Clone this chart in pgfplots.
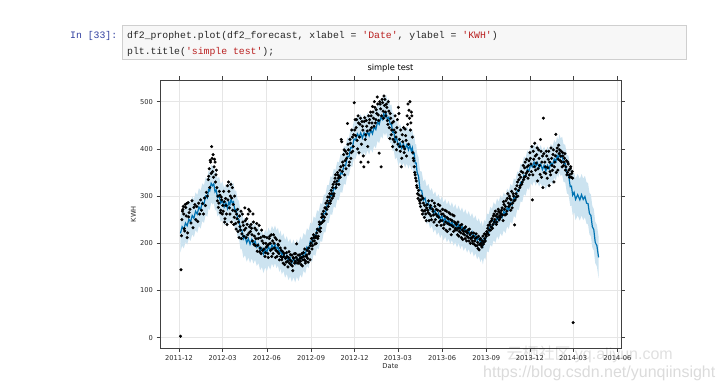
\documentclass[border=0pt]{standalone}
\usepackage{pgfplots}
\pgfplotsset{compat=1.18}
\usepackage{pgfplotstable}
\usepgfplotslibrary{fillbetween}
\usepackage{fontspec}
\setmainfont{DejaVu Sans}
\setmonofont{Liberation Mono}
\newfontfamily\wmfont{Liberation Sans}
\newfontfamily\cjk{Noto Sans CJK SC}
\definecolor{pblue}{HTML}{0072B2}
\definecolor{bandc}{HTML}{CCE3F0}
\definecolor{gridc}{HTML}{E6E6E6}
\definecolor{prompt}{HTML}{303F9F}
\definecolor{strred}{HTML}{BA2121}
\definecolor{cellbg}{HTML}{F7F7F7}
\definecolor{cellbd}{HTML}{CFCFCF}

\pgfplotstableread{
d yhat lo hi
3 221 181 261
6.5 235 195 275
10 229 189 269
13.5 243 203 283
17 237 197 277
20.5 251 211 291
24 245 205 285
27.5 259 219 299
31 253 213 293
34.5 268 228 308
38 262 222 302
41.5 277 237 317
45 271 231 311
48.5 287 247 327
52 283 243 323
55.5 300 260 340
59 296 256 336
61.5 314 274 354
64 311 271 351
67 327 287 367
70 322 282 362
72.5 326 286 366
75 309 269 349
77.5 313 273 353
80 297 257 337
83.5 301 261 341
87 285 245 325
90.5 291 251 331
94 277 237 317
97.5 286 246 326
101 274 234 314
103.5 288 248 328
106 282 242 322
108.5 294 254 334
111 285 245 325
113.5 288 248 328
116 271 231 311
119 272 232 312
122 253 213 293
125 250 210 290
128 227 187 267
131 228 188 268
134 209 169 249
137.5 215 175 255
141 201 161 241
144.5 210 170 250
148 198 158 238
151.5 208 168 248
155 197 157 237
158.5 205 165 245
162 192 152 232
165.5 198 158 238
169 183 143 223
172.5 190 150 230
176 177 137 217
179.5 189 149 229
183 181 141 221
186.5 193 153 233
190 184 144 224
193.5 197 157 237
197 189 149 229
200 198 158 238
203 187 147 227
206 193 153 233
209 179 139 219
211.5 187 147 227
214 174 134 214
217.5 181 141 221
221 167 127 207
224.5 175 135 215
228 162 122 202
231.5 170 130 210
235 158 118 198
238.5 168 128 208
242 157 117 197
245.5 169 129 209
249 160 120 200
252.5 174 134 214
256 167 127 207
259.5 182 142 222
263 176 136 216
266.5 192 152 232
270 187 147 227
273.5 204 164 244
277 200 160 240
280.5 217 177 257
284 213 173 253
287.5 230 190 270
291 227 187 267
294.5 245 205 285
298 243 203 283
301.5 263 223 303
305 263 223 303
308.5 283 243 323
312 283 243 323
315.5 302 262 342
319 300 260 340
322.5 318 278 358
326 315 275 355
329.5 333 293 373
333 331 291 371
336.5 349 309 389
340 347 307 387
343.5 366 326 406
347 364 324 404
350.5 384 344 424
354 383 343 423
357.5 403 363 443
361 402 362 442
364.5 421 381 461
368 419 379 459
371.5 432 392 472
375 425 385 465
378.5 434 394 474
382 423 383 463
385.5 434 394 474
389 425 385 465
392.5 437 397 477
396 428 388 468
399.5 440 400 480
403 432 392 472
406.5 447 407 487
410 441 401 481
413.5 457 417 497
417 452 412 492
420.5 467 427 507
424 462 422 502
426.5 475 435 515
429 467 427 507
431.5 475 435 515
434 462 422 502
437 467 427 507
440 452 412 492
442.5 454 414 494
445 435 395 475
447.5 437 397 477
450 418 378 458
453.5 422 382 462
457 405 365 445
460.5 413 373 453
464 401 361 441
467.5 411 371 451
471 400 360 440
474.5 409 369 449
478 398 358 438
481 407 367 447
484 395 355 435
486 402 362 442
488 389 349 429
490 390 350 430
492 370 330 410
494 370 330 410
496 350 310 390
499 342 302 382
502 313 273 353
505.5 312 272 352
509 291 251 331
512.5 296 256 336
516 280 240 320
519.5 286 246 326
523 271 231 311
526.5 277 237 317
530 263 223 303
533.5 270 230 310
537 257 217 297
540.5 264 224 304
544 251 211 291
547.5 259 219 299
551 246 206 286
554.5 254 214 294
558 242 202 282
561.5 250 210 290
565 238 198 278
568.5 247 207 287
572 235 195 275
575.5 243 203 283
579 231 191 271
582.5 240 200 280
586 228 188 268
589.5 236 196 276
593 224 184 264
596.5 232 192 272
600 220 180 260
603.5 228 188 268
607 216 176 256
610.5 224 184 264
614 212 172 252
617.5 219 179 259
621 206 166 246
624.5 213 173 253
628 200 160 240
630.5 208 168 248
633 195 155 235
635.5 210 170 250
638 205 165 245
641.5 223 183 263
645 221 181 261
648.5 237 197 277
652 233 193 273
655.5 247 207 287
659 241 201 281
662.5 255 215 295
666 248 208 288
669.5 262 222 302
673 255 215 295
676.5 268 228 308
680 261 221 301
683.5 276 236 316
687 270 230 310
690.5 286 246 326
694 281 241 321
697.5 298 258 338
701 294 254 334
704.5 312 272 352
708 310 270 350
711.5 329 289 369
715 327 287 367
718.5 344 304 384
722 341 301 381
725.5 357 317 397
729 353 313 393
732.5 368 328 408
736 362 322 402
739.5 372 332 412
743 362 322 402
746.5 371 331 411
750 360 320 400
753.5 368 328 408
757 356 316 396
760.5 365 325 405
764 353 313 393
767.5 365 325 405
771 357 317 397
774.5 371 331 411
778 365 325 405
781.5 379 339 419
785 373 333 413
787.5 386 346 426
790 379 339 419
792.5 391 351 431
795 382 342 422
798 386 346 426
801 370 330 410
804.5 369 329 409
808 347 306 388
811.5 344 303 385
815 320 279 361
817.5 321 280 362
820 302 260 344
823 308 266 350
826 293 249 337
830.5 303 259 347
835 292 248 336
838.5 303 259 347
842 293 249 337
845.5 299 255 343
849 285 241 329
852 284 240 328
855 263 219 307
858 259 215 303
861 235 191 279
864 229 185 273
867 202 158 246
870.5 195 151 239
874 170 126 214
}\fc

\begin{document}
\begin{tikzpicture}
% notebook cell
\draw[cellbd, fill=cellbg, line width=0.6pt] (122.5pt,363pt) rectangle (686pt,329pt);
\node[anchor=base west, inner sep=0, text=prompt, font=\ttfamily\fontsize{9.8}{12}\selectfont] at (70pt,349.5pt) {In [33]:};
\node[anchor=base west, inner sep=0, text=black!85, font=\ttfamily\fontsize{9.8}{12}\selectfont] at (127pt,349.5pt) {df2\_prophet.plot(df2\_forecast, xlabel = \textcolor{strred}{'Date'}, ylabel = \textcolor{strred}{'KWH'})};
\node[anchor=base west, inner sep=0, text=black!85, font=\ttfamily\fontsize{9.8}{12}\selectfont] at (127pt,333.5pt) {plt.title(\textcolor{strred}{'simple test'});};

\begin{axis}[
  at={(160pt,39.7pt)}, anchor=south west,
  width=461pt, height=268.3pt, scale only axis,
  xmin=-39.6, xmax=920.7, ymin=-22.5, ymax=546,
  xtick={0,91,183,275,366,456,548,640,731,821,913},
  xticklabels={2011-12,2012-03,2012-06,2012-09,2012-12,2013-03,2013-06,2013-09,2013-12,2014-03,2014-06},
  ytick={0,100,200,300,400,500},
  grid=major, major grid style={gridc, line width=0.8pt},
  tick align=outside, major tick length=3.5pt,
  tick style={black!75, line width=0.5pt},
  axis line style={black!75, line width=0.6pt},
  /pgf/number format/assume math mode=true,
  ticklabel style={font=\fontsize{6.7}{8}\selectfont, text=black!85},
  title={simple test},
  title style={font=\fontsize{8.3}{10}\selectfont, at={(0.5,1.0149)}, anchor=base, inner sep=0},
  xlabel={Date}, ylabel={KWH},
  label style={font=\fontsize{6.7}{8}\selectfont, text=black!85},
  xlabel style={at={(0.5,-0.0671)}, anchor=center, inner sep=0},
  ylabel style={at={(-0.0575,0.5)}, anchor=center, inner sep=0},
]
\addplot[draw=none, name path=U, forget plot] table[x=d, y=hi] {\fc};
\addplot[draw=none, name path=L, forget plot] table[x=d, y=lo] {\fc};
\addplot[bandc, draw=none] fill between[of=U and L];
\addplot[only marks, mark=*, mark size=1.35pt, black] coordinates {
(3,3)(4,144)(5,216)(7,268)(9,278)(11,231)(13,282)(15,258)(17,212)(19,286)(21,265)(23,272)(25,243)(27,290)(29,233)(31,276)(33,282)(35,250)(37,278)(39,246)(41,285)(43,262)(45,292)(47,270)(49,284)(51,262)(53,296)(55,280)(57,308)(59,300)
(6,250)(8,272)(10,262)(12,226)(14,276)(16,284)(18,222)(20,256)
(61,335)(63,358)(65,376)(67,348)(68,405)(69,380)(71,388)(73,362)(75,372)(77,345)(79,318)(81,300)(83,285)(85,302)(87,270)(89,292)(91,280)(62,342)(64,318)(66,372)(70,352)(72,340)(74,378)(76,330)(78,355)(80,290)(82,276)(84,310)(86,265)(88,298)(90,262)
(92,268)(93,310)(95,245)(97,295)(99,262)(101,322)(103,330)(105,275)(107,300)(109,245)(111,318)(113,282)(115,255)(117,268)(119,230)(94,288)(96,252)(98,280)(100,240)(102,292)(104,310)(106,262)(108,325)(110,296)(112,270)(114,240)(116,300)(118,242)(120,262)
(121,252)(123,225)(125,212)(127,235)(129,268)(131,220)(133,245)(135,215)(137,275)(139,232)(141,252)(143,218)(145,272)(147,235)(149,225)(122,272)(124,245)(126,258)(128,228)(130,210)(132,262)(134,238)(136,228)(138,248)(140,212)(142,240)(144,262)(146,222)(148,268)(150,240)
(151,232)(153,205)(155,245)(157,215)(159,195)(161,228)(163,183)(165,210)(167,238)(169,190)(171,178)(173,205)(175,215)(177,188)(179,172)(181,200)(152,218)(154,262)(156,198)(158,232)(160,210)(162,242)(164,196)(166,220)(168,182)(170,212)(172,228)(174,185)(176,200)(178,214)(180,180)(182,192)
(183,212)(185,178)(187,198)(189,215)(191,185)(193,172)(195,205)(197,218)(199,190)(201,170)(203,208)(205,182)(207,196)(209,165)(211,190)(184,195)(186,170)(188,210)(190,200)(192,218)(194,188)(196,178)(198,200)(200,212)(202,185)(204,172)(206,198)(208,178)(210,205)(212,172)
(213,185)(215,170)(217,158)(219,178)(221,190)(223,160)(225,172)(227,150)(229,182)(231,165)(233,155)(235,175)(237,142)(239,168)(241,158)(243,178)(214,165)(216,182)(218,172)(220,155)(222,168)(224,180)(226,162)(228,170)(230,158)(232,176)(234,162)(236,152)(238,170)(240,178)(242,162)
(245,199)(247,165)(249,158)(251,175)(253,162)(255,170)(257,152)(259,180)(261,165)(263,158)(265,172)(267,185)(269,160)(271,178)(273,165)(244,170)(246,158)(248,175)(250,162)(252,168)(254,155)(256,178)(258,165)(260,172)(262,188)(264,162)(266,175)(268,168)(270,190)(272,182)(274,195)
(275,200)(277,188)(279,205)(281,212)(283,198)(285,215)(287,222)(289,210)(291,228)(293,240)(295,232)(297,255)(299,245)(301,268)(303,255)(276,210)(278,195)(280,218)(282,205)(284,212)(286,200)(288,230)(290,215)(292,245)(294,225)(296,242)(298,262)(300,258)(302,248)(304,275)
(305,275)(307,262)(309,290)(311,278)(313,298)(315,285)(317,312)(319,295)(321,325)(323,305)(325,338)(327,318)(329,332)(331,345)(333,325)(335,355)(306,285)(308,272)(310,298)(312,285)(314,305)(316,290)(318,305)(320,318)(322,300)(324,330)(326,345)(328,325)(330,350)(332,338)(334,342)
(337,362)(338,420)(339,415)(341,372)(343,388)(345,345)(347,395)(349,380)(351,454)(353,398)(355,372)(357,412)(359,392)(361,425)(363,405)(365,498)(336,340)(340,352)(342,365)(344,398)(346,375)(348,358)(350,390)(352,410)(354,365)(356,420)(358,380)(360,440)(362,395)(364,430)
(367,462)(369,445)(371,418)(373,470)(375,392)(377,452)(379,372)(381,458)(383,440)(385,362)(387,466)(389,430)(391,448)(393,405)(395,470)(366,440)(368,428)(370,462)(372,400)(374,455)(376,425)(378,465)(380,410)(382,448)(384,385)(386,458)(388,420)(390,460)(392,438)(394,372)(396,455)
(397,462)(399,478)(401,445)(403,490)(405,465)(407,500)(409,455)(411,483)(413,510)(415,472)(417,391)(419,495)(421,362)(423,505)(425,480)(427,512)(398,440)(400,470)(402,455)(404,478)(406,448)(408,488)(410,462)(412,475)(414,495)(416,460)(418,500)(420,485)(422,470)(424,498)(426,465)
(429,505)(431,470)(433,488)(435,452)(437,480)(439,422)(441,465)(443,440)(445,405)(447,458)(449,415)(451,435)(453,398)(455,462)(428,492)(430,478)(432,495)(434,460)(436,500)(438,445)(440,475)(442,430)(444,455)(446,420)(448,440)(450,470)(452,425)(454,445)(456,410)
(457,488)(459,420)(461,395)(463,362)(465,430)(467,405)(469,392)(471,442)(473,418)(475,470)(477,495)(479,482)(481,500)(483,455)(485,470)(458,475)(460,405)(462,440)(464,380)(466,415)(468,445)(470,400)(472,428)(474,385)(476,452)(478,410)(480,465)(482,440)(484,478)(486,425)
(487,392)(489,375)(491,350)(493,338)(495,322)(497,305)(499,312)(501,290)(503,278)(505,300)(507,262)(509,285)(511,255)(513,270)(515,248)(488,380)(490,362)(492,345)(494,332)(496,318)(498,295)(500,302)(502,285)(504,292)(506,270)(508,295)(510,268)(512,280)(514,262)(516,275)
(517,282)(519,265)(521,248)(523,275)(525,258)(527,290)(529,268)(531,245)(533,278)(535,262)(537,238)(539,270)(541,255)(543,280)(545,248)(547,262)(518,270)(520,290)(522,262)(524,280)(526,250)(528,272)(530,260)(532,285)(534,250)(536,272)(538,258)(540,282)(542,245)(544,268)(546,238)
(549,272)(551,232)(553,258)(555,245)(557,268)(559,225)(561,252)(563,240)(565,262)(567,218)(569,248)(571,235)(573,258)(575,228)(577,242)(548,248)(550,262)(552,240)(554,270)(556,228)(558,255)(560,242)(562,265)(564,230)(566,250)(568,238)(570,260)(572,225)(574,245)(576,232)
(579,228)(581,245)(583,215)(585,232)(587,222)(589,240)(591,208)(593,225)(595,218)(597,235)(599,205)(601,222)(603,212)(605,230)(607,200)(578,240)(580,218)(582,232)(584,225)(586,238)(588,212)(590,228)(592,220)(594,232)(596,210)(598,225)(600,215)(602,228)(604,205)(606,218)(608,210)
(609,222)(611,205)(613,215)(615,198)(617,210)(619,220)(621,195)(623,189)(625,186)(627,208)(629,200)(631,192)(633,215)(635,202)(637,210)(639,218)(610,212)(612,200)(614,222)(616,205)(618,195)(620,212)(622,202)(624,215)(626,198)(628,210)(630,195)(632,205)(634,198)(636,220)(638,205)
(641,225)(643,232)(645,218)(647,240)(649,228)(651,248)(653,232)(655,258)(657,245)(659,268)(661,240)(663,262)(665,272)(667,250)(669,265)(640,215)(642,222)(644,238)(646,228)(648,245)(650,235)(652,252)(654,240)(656,262)(658,250)(660,258)(662,245)(664,255)(666,268)(668,258)
(671,262)(673,275)(675,248)(677,282)(679,260)(681,290)(683,268)(685,305)(687,278)(689,295)(691,270)(693,310)(695,285)(697,300)(699,239)(670,255)(672,270)(674,260)(676,288)(678,272)(680,278)(682,262)(684,295)(686,285)(688,300)(690,282)(692,292)(694,275)(696,305)(698,290)(700,292)
(701,315)(703,298)(705,330)(707,312)(709,345)(711,322)(713,352)(715,330)(717,365)(719,340)(721,372)(723,348)(725,362)(727,338)(729,375)(702,305)(704,322)(706,300)(708,335)(710,318)(712,340)(714,325)(716,350)(718,335)(720,360)(722,342)(724,378)(726,352)(728,365)(730,345)
(731,392)(733,368)(735,405)(736,292)(737,345)(739,378)(741,412)(743,355)(745,388)(747,332)(749,398)(751,365)(753,420)(755,340)(757,385)(759,465)(761,350)(732,380)(734,352)(738,395)(740,362)(742,385)(744,370)(746,402)(748,358)(750,380)(752,346)(754,395)(756,372)(758,318)(760,390)
(763,362)(765,395)(767,338)(769,378)(771,322)(773,352)(775,402)(777,365)(779,388)(781,330)(783,372)(785,431)(787,395)(789,355)(791,408)(762,372)(764,348)(766,385)(768,360)(770,395)(772,372)(774,345)(776,380)(778,355)(780,398)(782,362)(784,385)(786,350)(788,402)(790,378)(792,390)
(793,398)(795,385)(797,372)(799,392)(801,365)(803,380)(805,355)(807,375)(809,350)(811,368)(813,345)(815,358)(817,340)(819,352)(821,32)(794,375)(796,395)(798,362)(800,385)(802,372)(804,390)(806,362)(808,345)(810,372)(812,355)(814,340)(816,362)(818,348)(820,338)
};
\addplot[pblue, line width=1.2pt] table[x=d, y=yhat] {\fc};
\end{axis}

% watermark
\node[anchor=base east, inner sep=0, text=black, opacity=0.12, font=\wmfont\fontsize{16}{18}\selectfont] at (673pt,28pt) {{\cjk 云栖社区} yq.aliyun.com};
\node[anchor=base west, inner sep=0, text=black, opacity=0.14, font=\wmfont\fontsize{16}{18}\selectfont] at (483pt,11pt) {https://blog.csdn.net/yunqiinsight};
\pgfresetboundingbox
\useasboundingbox (0pt,0pt) rectangle (725pt,388pt);
\end{tikzpicture}
\end{document}
